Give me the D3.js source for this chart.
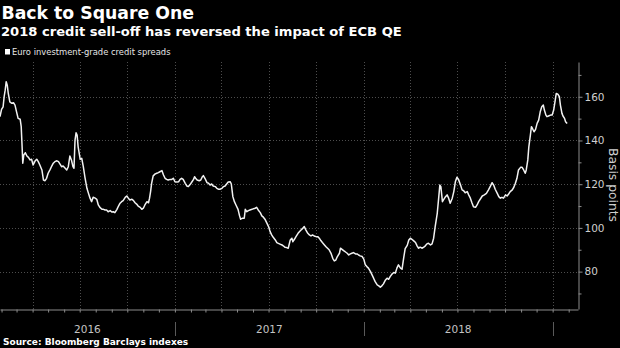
<!DOCTYPE html>
<html>
<head>
<meta charset="utf-8">
<script src="https://cdn.jsdelivr.net/npm/d3@7"></script>
<style>
  body { margin: 0; background: #000; }
  svg { display: block; font-family: 'DejaVu Sans', sans-serif; }
</style>
</head>
<body>
<div id="chart"></div>
<script>
// values (Euro IG spread, bp)
var dates = [
  '2016-01-29','2016-02-01','2016-02-04','2016-02-06','2016-02-08','2016-02-10','2016-02-12','2016-02-14','2016-02-17','2016-02-21','2016-02-24','2016-02-27',
  '2016-03-01','2016-03-04','2016-03-08','2016-03-10','2016-03-12','2016-03-13','2016-03-15','2016-03-18','2016-03-21','2016-03-24','2016-03-27','2016-03-30',
  '2016-04-02','2016-04-06','2016-04-09','2016-04-12','2016-04-15','2016-04-19','2016-04-22','2016-04-25','2016-04-28',
  '2016-05-01','2016-05-05','2016-05-08','2016-05-11','2016-05-14','2016-05-18','2016-05-21','2016-05-24','2016-05-27','2016-05-30',
  '2016-06-03','2016-06-06','2016-06-09','2016-06-12','2016-06-15','2016-06-18','2016-06-20','2016-06-22','2016-06-24','2016-06-26','2016-06-28',
  '2016-07-02','2016-07-05','2016-07-08','2016-07-11','2016-07-15','2016-07-18','2016-07-21','2016-07-24','2016-07-27','2016-07-31',
  '2016-08-03','2016-08-06','2016-08-09','2016-08-13','2016-08-16','2016-08-19','2016-08-22','2016-08-25','2016-08-29',
  '2016-09-01','2016-09-04','2016-09-07','2016-09-11','2016-09-14','2016-09-17','2016-09-20','2016-09-23','2016-09-27','2016-09-30',
  '2016-10-03','2016-10-06','2016-10-10','2016-10-13','2016-10-16','2016-10-19','2016-10-22','2016-10-26','2016-10-29',
  '2016-11-01','2016-11-04','2016-11-08','2016-11-11','2016-11-13','2016-11-15','2016-11-17','2016-11-20','2016-11-24','2016-11-27','2016-11-30',
  '2016-12-03','2016-12-07','2016-12-10','2016-12-13','2016-12-16','2016-12-19','2016-12-23','2016-12-26','2016-12-29',
  '2017-01-01','2017-01-05','2017-01-08','2017-01-11','2017-01-14','2017-01-17','2017-01-21','2017-01-24','2017-01-27','2017-01-30',
  '2017-02-03','2017-02-06','2017-02-08','2017-02-10','2017-02-13','2017-02-17','2017-02-20','2017-02-23','2017-02-25','2017-02-28',
  '2017-03-04','2017-03-07','2017-03-10','2017-03-13','2017-03-16','2017-03-20','2017-03-23','2017-03-26','2017-03-29',
  '2017-04-02','2017-04-05','2017-04-08','2017-04-11','2017-04-14','2017-04-18','2017-04-20','2017-04-23','2017-04-26','2017-04-29',
  '2017-05-03','2017-05-06','2017-05-08','2017-05-11','2017-05-15','2017-05-17','2017-05-20','2017-05-23','2017-05-26','2017-05-30',
  '2017-06-02','2017-06-05','2017-06-08','2017-06-11','2017-06-15','2017-06-18','2017-06-21','2017-06-24','2017-06-28',
  '2017-07-01','2017-07-04','2017-07-07','2017-07-10','2017-07-14','2017-07-17','2017-07-20','2017-07-23','2017-07-27','2017-07-30',
  '2017-08-02','2017-08-05','2017-08-08','2017-08-12','2017-08-15','2017-08-17','2017-08-20','2017-08-23','2017-08-27','2017-08-30',
  '2017-09-02','2017-09-05','2017-09-08','2017-09-11','2017-09-14','2017-09-18','2017-09-21','2017-09-24','2017-09-27',
  '2017-10-01','2017-10-04','2017-10-07','2017-10-10','2017-10-13','2017-10-17','2017-10-20','2017-10-23','2017-10-26','2017-10-30',
  '2017-11-02','2017-11-05','2017-11-08','2017-11-11','2017-11-15','2017-11-17','2017-11-20','2017-11-23','2017-11-26','2017-11-30',
  '2017-12-03','2017-12-06','2017-12-09','2017-12-12','2017-12-16','2017-12-19','2017-12-22','2017-12-25','2017-12-29',
  '2018-01-01','2018-01-04','2018-01-07','2018-01-10','2018-01-14','2018-01-17','2018-01-20','2018-01-23','2018-01-27','2018-01-30',
  '2018-02-02','2018-02-05','2018-02-08','2018-02-12','2018-02-15','2018-02-18','2018-02-21','2018-02-25','2018-02-28',
  '2018-03-03','2018-03-06','2018-03-09','2018-03-13','2018-03-16','2018-03-19','2018-03-22','2018-03-26','2018-03-29',
  '2018-04-01','2018-04-04','2018-04-07','2018-04-11','2018-04-14','2018-04-17','2018-04-20','2018-04-24','2018-04-27','2018-04-30',
  '2018-05-03','2018-05-06','2018-05-10','2018-05-13','2018-05-16','2018-05-19','2018-05-23','2018-05-26','2018-05-28','2018-05-30',
  '2018-06-02','2018-06-04','2018-06-08','2018-06-11','2018-06-14','2018-06-17','2018-06-21','2018-06-24','2018-06-27','2018-06-30',
  '2018-07-03','2018-07-07','2018-07-10','2018-07-13','2018-07-16','2018-07-20','2018-07-23','2018-07-26','2018-07-29',
  '2018-08-01','2018-08-05','2018-08-08','2018-08-11','2018-08-14','2018-08-18','2018-08-22','2018-08-26','2018-08-30',
  '2018-09-03','2018-09-06','2018-09-09','2018-09-12','2018-09-16','2018-09-19','2018-09-22','2018-09-25','2018-09-28',
  '2018-10-02','2018-10-05','2018-10-08','2018-10-11','2018-10-15','2018-10-18','2018-10-21','2018-10-24','2018-10-27','2018-10-31',
  '2018-11-03','2018-11-06','2018-11-09','2018-11-11','2018-11-14','2018-11-16','2018-11-19','2018-11-21','2018-11-23','2018-11-26','2018-11-29',
  '2018-12-02','2018-12-05','2018-12-08','2018-12-11','2018-12-14','2018-12-16','2018-12-19','2018-12-21','2018-12-24','2018-12-28','2018-12-31',
  '2019-01-03','2019-01-06','2019-01-08','2019-01-11','2019-01-14','2019-01-16','2019-01-19','2019-01-21','2019-01-24','2019-01-26','2019-01-29'
];

var spreads = [
  150.9,154.2,155.4,160,163,166.9,165.3,161.5,157.7,157,157.3,156.2,
  153.1,150.1,149.7,146.3,135.6,129.6,133.4,134.4,132.9,132.3,131.1,131.4,
  128.8,130.7,131.4,130.3,128.8,126.5,121.9,121.6,122.7,
  125,126.8,128.3,129.6,130.3,130.7,130.3,129.2,128,128.3,
  127.3,126.5,128,132.9,131.1,128,127.3,140.2,143.5,142.5,137.1,
  131.4,131.8,128,123.4,118.1,115.8,113.6,112,114,113.6,
  113.1,110.5,109.4,108.5,108.5,108.2,108.2,107.4,107.9,
  107.3,107.4,107,108.5,110,111.3,112,112.5,114,114.6,
  113.6,112.8,113.1,112.5,111.5,110.9,110,109.4,108.5,
  109,110.5,112,111.5,113.6,116.6,120.4,123.8,124.7,125,125.3,
  125.7,126.2,124.2,122.7,122.2,121.9,122.2,122.2,122.7,
  121.1,121,121.1,122.2,122.7,122.2,120.4,119.2,118.9,119.7,
  121.1,122.2,123.4,122.7,121.9,121.6,121.9,123.4,123.9,122.7,
  120.7,120.4,119.6,120.1,119.2,118.9,118.1,117.7,117.7,
  118.1,118.9,119.2,120.1,121,121.1,120.1,114.3,112,110.5,
  108.5,105.5,104,104.4,104.4,108.5,107.4,107.9,108.2,108.5,
  108.8,109,109.4,108.2,107,105.5,104.9,104,102.1,
  100.6,98.3,96.8,95.7,94.5,93.3,92.9,92.6,92.2,91.7,
  91.1,91,90.7,94.5,95.3,93.7,94.8,96,97.5,98.3,
  99.1,99.8,100.6,99.1,97.8,96.8,96.3,96.8,96.3,
  96,96,95.3,94.2,93.3,92.2,91.4,90.7,90,88.2,
  86.1,84.9,85.3,86.9,88.4,90.7,90.2,89.6,89.1,88.4,
  87.6,88.1,88.4,88.7,88.1,88.1,87.6,87.2,86.9,
  85.7,83.1,82.3,81.6,80,78.5,77,75.4,73.9,73.5,
  72.9,73.5,74.4,76.2,77,76.5,77.7,79,79.6,
  79.3,81.6,83.1,81.6,81.1,86.1,90.5,92,94.5,
  95.3,94.8,94.2,93.3,91.8,90.7,91.2,90.7,91.2,91.8,
  92.7,93,92.2,92.7,95.3,100.6,106.7,114.3,119.6,118.9,
  112,112.8,114.3,115.1,113.6,111.3,113.6,116.6,121.1,123.2,
  122.2,119.6,117.4,117,116.1,116.6,115,113.6,111.5,
  109.7,109.4,110.5,112,113.1,114.6,115.1,115.8,117.4,
  119.2,120.7,119.6,117.7,115.8,114.3,113.6,114,113.6,
  115.1,114.6,115.5,116.6,117.4,118.6,120.4,122.7,126.5,127.7,
  127.7,126.5,125,126.5,131.1,137.1,142.5,146.3,145.5,144,145.1,
  147.8,149.3,153.1,155.4,156.2,153.9,151.6,150.9,151.2,151.6,151.6,
  153.9,158.5,161.5,161.2,160,156.2,152.4,151.2,150.1,148.6,147.8
];

var yTicks = [80, 100, 120, 140, 160];
var yMinorTicks = [70, 90, 110, 130, 150, 170];
var yearLabels = ['2016', '2017', '2018'];

// svg setup
var svgWidth = 620;
var svgHeight = 348;
var plot = { left: 0, right: 578, top: 62, bottom: 309 };

var svg = d3.select('#chart')
    .append('svg')
    .attr('width', svgWidth)
    .attr('height', svgHeight);

svg.append('rect')
    .attr('width', svgWidth)
    .attr('height', svgHeight)
    .attr('fill', '#000');

var parseDate = d3.utcParse('%Y-%m-%d');
var data = dates.map(function(d, i) {
    return { date: parseDate(d), value: spreads[i] };
});

// scales
var xScale = d3.scaleUtc()
    .domain([parseDate('2016-01-29'), parseDate('2019-02-19')])
    .range([plot.left, plot.right]);

var yScale = d3.scaleLinear()
    .domain([62.9, 175.9])
    .range([plot.bottom, plot.top]);

// dotted gridlines
var grid = svg.append('g')
    .attr('stroke', '#4d4d4d')
    .attr('stroke-width', 1)
    .attr('stroke-dasharray', '1,2');

grid.selectAll('.hgrid')
    .data(yTicks)
    .enter()
    .append('line')
    .attr('x1', plot.left)
    .attr('x2', plot.right)
    .attr('y1', d => Math.round(yScale(d)) + 0.5)
    .attr('y2', d => Math.round(yScale(d)) + 0.5);

grid.selectAll('.vgrid')
    .data(xScale.ticks(d3.utcMonth.every(3)))
    .enter()
    .append('line')
    .attr('x1', d => Math.round(xScale(d)) + 0.5)
    .attr('x2', d => Math.round(xScale(d)) + 0.5)
    .attr('y1', plot.top)
    .attr('y2', plot.bottom);

// right axis with minor ticks
var rightAxis = svg.append('g')
    .attr('transform', `translate(${plot.right + 0.5}, 0)`)
    .call(d3.axisRight(yScale).tickValues(yTicks).tickSize(4).tickPadding(2).tickSizeOuter(0));

svg.append('g')
    .attr('transform', `translate(${plot.right + 0.5}, 0)`)
    .call(d3.axisRight(yScale).tickValues(yMinorTicks).tickSize(3).tickFormat('').tickSizeOuter(0))
    .select('.domain').remove();

// bottom axis, month ticks
var bottomAxis = svg.append('g')
    .attr('transform', `translate(0, ${plot.bottom + 0.5})`)
    .call(d3.axisBottom(xScale).ticks(d3.utcMonth.every(1)).tickSize(3).tickFormat('').tickSizeOuter(0));

svg.selectAll('.domain').attr('stroke', '#8c8c8c');
svg.selectAll('.tick line').attr('stroke', '#8c8c8c');

rightAxis.selectAll('text')
    .attr('fill', '#cfcfcf')
    .attr('font-family', 'DejaVu Sans')
    .attr('font-size', '10.5px');

// year separators and labels
var yearStarts = xScale.ticks(d3.utcYear.every(1));
svg.append('g')
    .selectAll('line')
    .data(yearStarts)
    .enter()
    .append('line')
    .attr('x1', d => Math.round(xScale(d)) + 0.5)
    .attr('x2', d => Math.round(xScale(d)) + 0.5)
    .attr('y1', 322)
    .attr('y2', 336)
    .attr('stroke', '#5a5a5a');

svg.append('g')
    .selectAll('text')
    .data(yearLabels)
    .enter()
    .append('text')
    .attr('x', function(d) {
        var start = Math.max(xScale(parseDate(d + '-01-01')), plot.left);
        var end = Math.min(xScale(parseDate((+d + 1) + '-01-01')), plot.right);
        return (start + end) / 2;
    })
    .attr('y', 333)
    .attr('text-anchor', 'middle')
    .attr('fill', '#c4c4c4')
    .attr('font-size', '10.5px')
    .text(d => d);

// the spread line
var line = d3.line()
    .x(d => xScale(d.date))
    .y(d => yScale(d.value));

svg.append('path')
    .datum(data)
    .attr('d', line)
    .attr('fill', 'none')
    .attr('stroke', '#f2f2f2')
    .attr('stroke-width', 1.5)
    .attr('stroke-linejoin', 'round');

// axis title, reads top to bottom
svg.append('text')
    .attr('transform', 'translate(609, 185) rotate(90)')
    .attr('text-anchor', 'middle')
    .attr('fill', '#cfcfcf')
    .attr('font-size', '12.3px')
    .text('Basis points');

// titles
svg.append('text')
    .attr('x', 1.5)
    .attr('y', 19)
    .attr('fill', '#fff')
    .attr('font-weight', 'bold')
    .attr('font-size', '17.3px')
    .text('Back to Square One');

svg.append('text')
    .attr('x', 1)
    .attr('y', 35.5)
    .attr('fill', '#fff')
    .attr('font-weight', 'bold')
    .attr('font-size', '13.1px')
    .text('2018 credit sell-off has reversed the impact of ECB QE');

// legend
svg.append('rect')
    .attr('x', 5)
    .attr('y', 49)
    .attr('width', 5)
    .attr('height', 5.5)
    .attr('fill', '#fff');

svg.append('text')
    .attr('x', 12)
    .attr('y', 55)
    .attr('fill', '#e6e6e6')
    .attr('font-size', '8.4px')
    .text('Euro investment-grade credit spreads');

// source
svg.append('text')
    .attr('x', 3)
    .attr('y', 345)
    .attr('fill', '#fff')
    .attr('font-weight', 'bold')
    .attr('font-size', '9px')
    .text('Source: Bloomberg Barclays indexes');
</script>
</body>
</html>
